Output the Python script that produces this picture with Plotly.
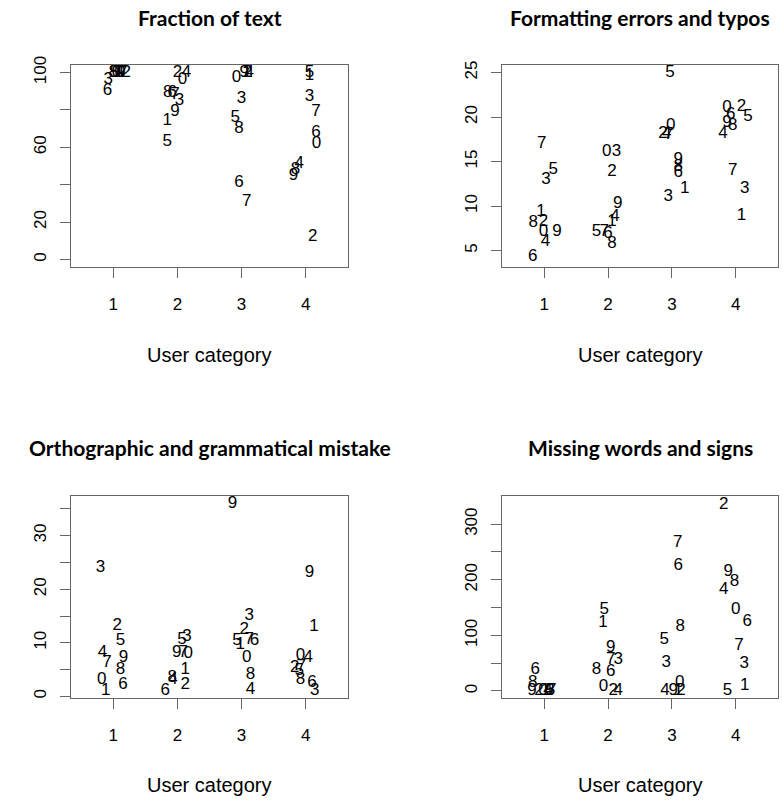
import plotly.graph_objects as go

point_labels = ["0", "1", "2", "3", "4", "5", "6", "7", "8", "9"] * 4
categories = [1, 2, 3, 4]
category_ticktext = ["1", "2", "3", "4"]

# Fraction of text
frac_x = [1.05, 1.08, 1.20, 0.92, 1.10, 1.02, 0.91, 1.15, 1.00, 1.12,
          2.08, 1.84, 2.00, 2.03, 2.14, 1.84, 1.92, 1.96, 1.85, 1.96,
          2.92, 3.08, 3.10, 3.00, 3.12, 2.90, 2.96, 3.08, 2.96, 3.04,
          4.17, 4.06, 4.11, 4.06, 3.90, 4.06, 4.16, 4.16, 3.84, 3.81]
frac_y = [100, 100, 100, 96, 100, 100, 90, 100, 100, 100,
          96, 74, 100, 85, 100, 63, 89, 88, 89, 79,
          97, 100, 100, 86, 100, 76, 41, 31, 70, 100,
          62, 98, 12, 87, 51, 100, 68, 79, 48, 45]

# Formatting errors and typos
fmt_x = [0.99, 0.95, 0.99, 1.03, 1.02, 1.14, 0.82, 0.96, 0.83, 1.20,
         1.98, 2.06, 2.06, 2.13, 2.11, 1.82, 2.00, 1.94, 2.06, 2.15,
         2.98, 3.20, 2.86, 2.94, 2.92, 2.97, 3.10, 2.95, 3.10, 3.10,
         3.86, 4.09, 4.09, 4.14, 3.80, 4.19, 3.92, 3.95, 3.95, 3.86]
fmt_y = [7.1, 9.4, 8.2, 13.0, 6.0, 14.1, 4.3, 17.0, 8.1, 7.1,
         16.05, 8.2, 13.9, 16.05, 8.8, 7.1, 6.9, 7.1, 5.8, 10.3,
         19.0, 11.9, 18.1, 11.0, 18.1, 25.0, 13.7, 18.0, 14.4, 15.2,
         21.0, 8.9, 21.2, 11.9, 18.1, 20.0, 20.3, 14.0, 19.0, 19.4]

# Orthographic and grammatical mistake
orth_x = [0.82, 0.88, 1.06, 0.80, 0.83, 1.11, 1.15, 0.90, 1.11, 1.16,
          2.17, 2.12, 2.12, 2.15, 1.93, 2.07, 1.81, 2.09, 1.92, 1.99,
          3.08, 2.98, 3.04, 3.12, 3.14, 2.93, 3.20, 3.12, 3.14, 2.86,
          3.92, 4.13, 3.83, 4.14, 4.04, 3.90, 4.10, 3.93, 3.92, 4.06]
orth_y = [3.2, 1.0, 13.1, 24.0, 8.1, 10.3, 2.2, 6.3, 5.0, 7.2,
          8.0, 5.0, 2.2, 11.2, 3.2, 10.6, 1.0, 8.1, 3.4, 8.1,
          7.2, 9.7, 12.5, 15.1, 1.2, 10.3, 10.3, 10.6, 4.1, 36.0,
          7.5, 13.0, 5.3, 1.0, 7.2, 4.7, 2.5, 5.6, 3.2, 23.0]

# Missing words and signs
miss_x = [0.98, 1.02, 0.92, 1.09, 1.06, 1.10, 0.86, 1.12, 0.82, 0.81,
          1.93, 1.92, 2.08, 2.16, 2.16, 1.94, 2.04, 2.04, 1.82, 2.04,
          3.12, 3.10, 3.14, 2.91, 2.89, 2.88, 3.10, 3.09, 3.13, 3.02,
          4.00, 4.14, 3.81, 4.13, 3.81, 3.87, 4.18, 4.05, 3.98, 3.88]
miss_y = [1, 0, 0, 0, 1, 0, 38, 1, 15, 0,
          8, 122, 0, 56, 0, 146, 35, 56, 38, 77,
          14, 0, 0, 51, 0, 92, 225, 266, 116, 0,
          146, 9, 335, 49, 182, 0, 125, 81, 197, 215]

panel_titles = ["Fraction of text", "Formatting errors and typos",
                "Orthographic and grammatical mistake", "Missing words and signs"]
x_title = "User category"

W, H = 783, 801
LEFT = (71, 348)
RIGHT = (502, 778)
TOP = (65, 267)
BOTTOM = (496, 698)

def xdom(a):
    return [a[0] / W, a[1] / W]

def ydom(a):
    return [1 - a[1] / H, 1 - a[0] / H]

panels = [
    dict(x=frac_x, y=frac_y, xd=LEFT, yd=TOP, yr=[-4, 104],
         tv=[0, 20, 40, 60, 80, 100], tt=["0", "20", "", "60", "", "100"]),
    dict(x=fmt_x, y=fmt_y, xd=RIGHT, yd=TOP, yr=[3.16, 25.84],
         tv=[5, 10, 15, 20, 25], tt=["5", "10", "15", "20", "25"]),
    dict(x=orth_x, y=orth_y, xd=LEFT, yd=BOTTOM, yr=[-0.3, 37.4],
         tv=[0, 5, 10, 15, 20, 25, 30, 35], tt=["0", "", "10", "", "20", "", "30", ""]),
    dict(x=miss_x, y=miss_y, xd=RIGHT, yd=BOTTOM, yr=[-12.6, 350.7],
         tv=[0, 50, 100, 150, 200, 250, 300], tt=["0", "", "100", "", "200", "", "300"]),
]

FONT = "Liberation Sans, Arial, sans-serif"
AXCOL = "#666666"

fig = go.Figure()
layout = dict(template="none", width=W, height=H,
              margin=dict(l=0, r=0, t=0, b=0, autoexpand=False),
              paper_bgcolor="white", plot_bgcolor="white", showlegend=False,
              annotations=[])

for i, p in enumerate(panels):
    n = "" if i == 0 else str(i + 1)
    fig.add_trace(go.Scatter(
        x=p["x"], y=p["y"], text=point_labels, mode="text",
        textposition="middle center",
        textfont=dict(family=FONT, size=17, color="black"),
        xaxis="x" + n, yaxis="y" + n, hoverinfo="skip", cliponaxis=True))
    layout["xaxis" + n] = dict(
        domain=xdom(p["xd"]), range=[0.34, 4.66], anchor="y" + n,
        automargin=False,
        tickmode="array", tickvals=categories, ticktext=category_ticktext,
        showgrid=False, zeroline=False, showline=True, mirror=True,
        linecolor=AXCOL, linewidth=1, ticks="outside", ticklen=10,
        tickcolor=AXCOL, tickfont=dict(family=FONT, size=17, color="black"),
        ticklabelstandoff=12)
    layout["yaxis" + n] = dict(
        domain=ydom(p["yd"]), range=p["yr"], anchor="x" + n,
        automargin=False,
        tickmode="array", tickvals=p["tv"], ticktext=p["tt"],
        showgrid=False, zeroline=False, showline=True, mirror=True,
        linecolor=AXCOL, linewidth=1, ticks="outside", ticklen=10,
        tickcolor=AXCOL, tickangle=-90,
        tickfont=dict(family=FONT, size=17, color="black"),
        ticklabelstandoff=7)
    cx = (p["xd"][0] + p["xd"][1]) / 2 / W
    ty = 17 if p["yd"] == TOP else 447
    ly = 355 if p["yd"] == TOP else 785
    layout["annotations"].append(dict(
        text="<b>" + panel_titles[i] + "</b>", xref="paper", yref="paper",
        x=cx, y=1 - ty / H, xanchor="center", yanchor="middle", showarrow=False,
        font=dict(family="Lato, sans-serif", size=21, color="black")))
    layout["annotations"].append(dict(
        text=x_title, xref="paper", yref="paper",
        x=cx, y=1 - ly / H, xanchor="center", yanchor="middle", showarrow=False,
        font=dict(family=FONT, size=20, color="black")))

fig.update_layout(**layout)
post = ("document.body.style.margin='0';"
        "var d=document.getElementById('{plot_id}');"
        "d.style.position='absolute';d.style.left='0px';d.style.top='0px';")
fig.write_html("out.html", post_script=post, config={"displayModeBar": False})
